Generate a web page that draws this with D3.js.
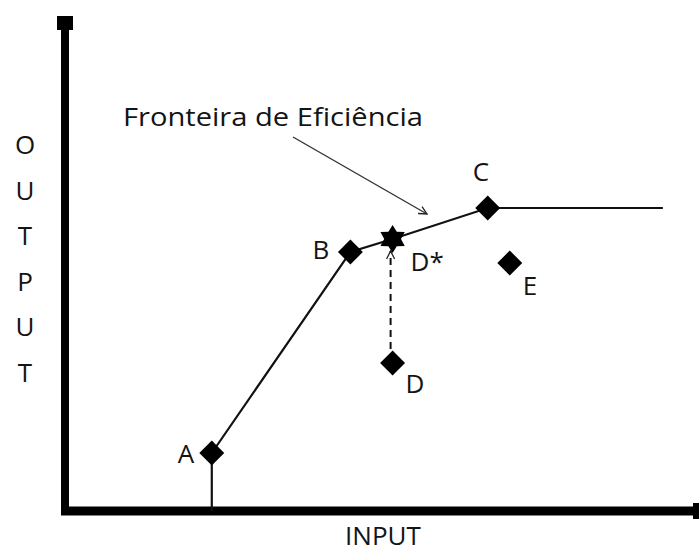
<!DOCTYPE html>
<html>
<head>
<meta charset="utf-8">
<script src="https://cdn.jsdelivr.net/npm/d3@7"></script>
<style>
  body { margin: 0; background: #fff; }
  svg text { font-family: "Open Sans", Lato, sans-serif; fill: #141414; }
</style>
</head>
<body>
<svg id="chart" width="699" height="552"></svg>
<script>
// DEA units (input, output)
var units = ["A", "B", "C", "D", "E"];
var inputs = [23.3, 45.3, 67.1, 52.0, 70.6];
var outputs = [11.6, 51.8, 60.6, 29.6, 49.6];

// projected point of D on the frontier
var projName = "D*";
var projInput = 52.0;
var projOutput = 54.4;

// frontier vertices (input, output), in order
var frontierX = [23.3, 23.3, 45.3, 52.0, 67.1, 94.9];
var frontierY = [0, 11.6, 51.8, 54.4, 60.6, 60.6];

var xTitle = "INPUT";
var yTitle = "OUTPUT";
var noteText = "Fronteira de Eficiência";

var svg = d3.select("#chart");

var x = d3.scaleLinear().domain([0, 100]).range([65, 695]);
var y = d3.scaleLinear().domain([0, 100]).range([511, 11]);

// arrow markers
var defs = svg.append("defs");
defs.append("marker")
    .attr("id", "openArrow")
    .attr("viewBox", "0 0 10 10")
    .attr("refX", 9).attr("refY", 5)
    .attr("markerWidth", 10).attr("markerHeight", 10)
    .attr("markerUnits", "userSpaceOnUse")
    .attr("orient", "auto")
    .append("path")
    .attr("d", "M1,1 L9,5 L1,9")
    .attr("fill", "none")
    .attr("stroke", "#222")
    .attr("stroke-width", 1.3);

// axes (thick lines with square caps)
svg.append("line")
    .attr("x1", x(0)).attr("y1", y(0) + 4)
    .attr("x2", x(0)).attr("y2", 22)
    .attr("stroke", "#000").attr("stroke-width", 8);
svg.append("rect")
    .attr("x", x(0) - 8).attr("y", 16)
    .attr("width", 16).attr("height", 14)
    .attr("fill", "#000");
svg.append("line")
    .attr("x1", x(0) - 4).attr("y1", y(0))
    .attr("x2", 696).attr("y2", y(0))
    .attr("stroke", "#000").attr("stroke-width", 9);
svg.append("rect")
    .attr("x", 693).attr("y", y(0) - 8)
    .attr("width", 6).attr("height", 16)
    .attr("fill", "#000");

// axis titles
svg.append("text")
    .attr("x", 383).attr("y", 545)
    .attr("text-anchor", "middle")
    .attr("font-size", 26)
    .text(xTitle);

svg.selectAll(".ylet")
    .data(yTitle.split(""))
    .enter().append("text")
    .attr("class", "ylet")
    .attr("x", 25)
    .attr("y", function(d, i) { return 154 + i * 45.6; })
    .attr("text-anchor", "middle")
    .attr("font-size", 26)
    .text(function(d) { return d; });

// efficiency frontier
var line = d3.line()
    .x(function(d) { return x(d[0]); })
    .y(function(d) { return y(d[1]); });
var frontier = frontierX.map(function(v, i) { return [v, frontierY[i]]; });
svg.append("path")
    .datum(frontier)
    .attr("d", line)
    .attr("fill", "none")
    .attr("stroke", "#111")
    .attr("stroke-width", 2.2);

// dashed projection D -> D*
var dIdx = units.indexOf("D");
svg.append("line")
    .attr("x1", x(inputs[dIdx]) - 2).attr("y1", y(outputs[dIdx]) - 14)
    .attr("x2", x(projInput) - 2).attr("y2", y(projOutput) + 12)
    .attr("stroke", "#111")
    .attr("stroke-width", 2)
    .attr("stroke-dasharray", "7,5")
    .attr("marker-end", "url(#openArrow)");

// note arrow
svg.append("line")
    .attr("x1", 293).attr("y1", 137)
    .attr("x2", 427).attr("y2", 214)
    .attr("stroke", "#333")
    .attr("stroke-width", 1.4)
    .attr("marker-end", "url(#openArrow)");

svg.append("text")
    .attr("x", 123).attr("y", 126)
    .attr("font-size", 26)
    .attr("textLength", 300)
    .attr("lengthAdjust", "spacingAndGlyphs")
    .text(noteText);

// diamonds
var diamond = d3.symbol().type(d3.symbolSquare).size(310);
svg.selectAll(".unit")
    .data(units)
    .enter().append("path")
    .attr("class", "unit")
    .attr("d", diamond)
    .attr("transform", function(d, i) {
        return "translate(" + x(inputs[i]) + "," + y(outputs[i]) + ") rotate(45)";
    })
    .attr("fill", "#000");

// star for D*
function hexagram(r) {
    var pts = [];
    for (var k = 0; k < 12; k++) {
        var rr = k % 2 === 0 ? r : r * 0.6;
        var a = -Math.PI / 2 + k * Math.PI / 6;
        pts.push([rr * Math.cos(a), rr * Math.sin(a)]);
    }
    return "M" + pts.join("L") + "Z";
}
svg.append("path")
    .attr("d", hexagram(14))
    .attr("transform", "translate(" + x(projInput) + "," + y(projOutput) + ")")
    .attr("fill", "#000");

// point labels (offsets from marker)
var labelOffset = {
    "A": [-34, 10], "B": [-38, 7], "C": [-15, -27],
    "D": [13, 30], "E": [13, 32], "D*": [18, 32]
};
var labels = units.map(function(u, i) { return [u, inputs[i], outputs[i]]; });
labels.push([projName, projInput, projOutput]);
svg.selectAll(".lab")
    .data(labels)
    .enter().append("text")
    .attr("class", "lab")
    .attr("x", function(d) { return x(d[1]) + labelOffset[d[0]][0]; })
    .attr("y", function(d) { return y(d[2]) + labelOffset[d[0]][1]; })
    .attr("font-size", 26)
    .text(function(d) { return d[0]; });
</script>
</body>
</html>
